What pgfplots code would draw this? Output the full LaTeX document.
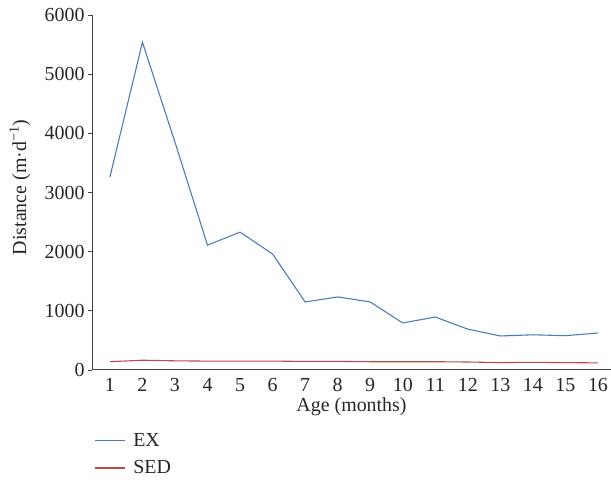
\documentclass[border=0pt]{standalone}
\usepackage{fontspec}
\setmainfont{Liberation Serif}
\usepackage{pgfplots}
\pgfplotsset{compat=1.18}
\definecolor{exblue}{HTML}{4A7EBB}
\definecolor{sedred}{HTML}{BE4B48}
\definecolor{axgray}{HTML}{404040}
\begin{document}
\begin{tikzpicture}
\begin{axis}[
  scale only axis,
  width=519bp, height=355bp,
  xmin=0.45, xmax=16.4,
  ymin=0, ymax=6000,
  axis x line=bottom, axis y line=left,
  axis line style={-, axgray, line width=1pt},
  xtick={1,...,16},
  ytick={0,1000,...,6000},
  major x tick style={draw=none},
  major y tick style={axgray, line width=0.8pt},
  tick align=outside,
  major tick length=4bp,
  /pgf/number format/assume math mode=true,
  /pgf/number format/1000 sep={},
  tick label style={font=\fontsize{20}{22}\selectfont, text=black!85},
  label style={font=\fontsize{20}{22}\selectfont, text=black!85},
  xlabel={Age (months)},
  ylabel={Distance (m·d\textsuperscript{−1})},
  xlabel style={at={(axis description cs:0.5,0)}, anchor=center, yshift=-37bp},
  ylabel style={at={(axis description cs:0,0.5)}, anchor=center, yshift=72bp, xshift=5bp},
  xticklabel style={yshift=-1bp},
  legend style={at={(axis description cs:0,0)}, anchor=north west, xshift=2bp, yshift=-59bp,
    draw=none, fill=none, font=\fontsize{20}{22}\selectfont, text=black!85,
    row sep=9bp, cells={anchor=west}, inner xsep=0bp},
  legend image code/.code={\draw[#1] (0bp,0bp) -- (30bp,0bp);},
  legend cell align=left,
  clip=false,
]
\addplot[exblue, line width=1.1pt] coordinates {
(1,3260) (2,5540) (3,3850) (4,2110) (5,2330) (6,1960) (7,1150) (8,1235)
(9,1150) (10,795) (11,895) (12,690) (13,575) (14,595) (15,580) (16,625)};
\addlegendentry{\hspace{6bp}EX}
\addplot[sedred, line width=1.1pt] coordinates {
(1,140) (2,165) (3,155) (4,150) (5,150) (6,150) (7,145) (8,145)
(9,140) (10,140) (11,140) (12,135) (13,125) (14,130) (15,125) (16,120)};
\addlegendentry{\hspace{6bp}SED}
\coordinate (tl) at (rel axis cs:0,1);
\coordinate (br) at (rel axis cs:1,0);
\end{axis}
\pgfresetboundingbox
\path ([shift={(-92bp,15bp)}]tl) rectangle ([shift={(0bp,-130bp)}]br);
\end{tikzpicture}
\end{document}
